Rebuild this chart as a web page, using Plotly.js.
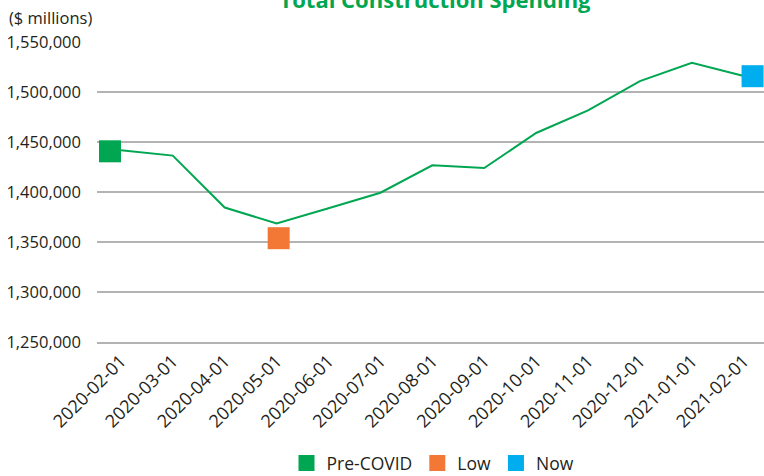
<!DOCTYPE html>
<html>
<head>
<meta charset="utf-8">
<script src="https://cdn.plot.ly/plotly-3.0.1.min.js"></script>
<style>html,body{margin:0;padding:0;background:#fff;}#chart{width:764px;height:476px;}</style>
</head>
<body>
<div id="chart"></div>
<script>
// ---- data ----
const dates = ['2020-02-01','2020-03-01','2020-04-01','2020-05-01','2020-06-01','2020-07-01','2020-08-01',
               '2020-09-01','2020-10-01','2020-11-01','2020-12-01','2021-01-01','2021-02-01'];
const spending = [1441700, 1436400, 1384500, 1368500, 1383800, 1399300, 1426700,
                  1424000, 1459000, 1481600, 1510900, 1529200, 1516000];
const yTickVals = [1250000, 1300000, 1350000, 1400000, 1450000, 1500000, 1550000];
const yTickText = ['1,250,000','1,300,000','1,350,000','1,400,000','1,450,000','1,500,000','1,550,000'];
// highlight markers (x as position along the date index)
const preCovidX = [-0.21], preCovidY = [1440700];
const lowX = [3.04],       lowY = [1353800];
const nowX = [12.17],      nowY = [1515800];

const idx = dates.map((d, i) => i);
const FONT = '"Open Sans", "DejaVu Sans", sans-serif';
const TXT = '#231f20';

const traces = [
  {x: idx, y: spending, type: 'scatter', mode: 'lines', line: {color: '#00a651', width: 2},
   showlegend: false, hoverinfo: 'skip'},
  {x: preCovidX, y: preCovidY, type: 'scatter', mode: 'markers', name: 'Pre-COVID',
   marker: {symbol: 'square', size: 22, color: '#00a651'}, cliponaxis: false},
  {x: lowX, y: lowY, type: 'scatter', mode: 'markers', name: 'Low',
   marker: {symbol: 'square', size: 22, color: '#f37735'}, cliponaxis: false},
  {x: nowX, y: nowY, type: 'scatter', mode: 'markers', name: 'Now',
   marker: {symbol: 'square', size: 22, color: '#00aeef'}, cliponaxis: false}
];

const layout = {
  width: 764, height: 476,
  margin: {l: 97, r: 0, t: 41.5, b: 134},
  paper_bgcolor: '#fff', plot_bgcolor: '#fff',
  font: {family: FONT, color: TXT, size: 16},
  title: {text: '<b>Total Construction Spending</b>', font: {family: FONT, size: 22, color: '#00a651'},
          xref: 'container', x: 435/764, xanchor: 'center', yref: 'container', y: 1 - 8/476, yanchor: 'bottom'},
  xaxis: {range: [-0.46, 12.39], tickmode: 'array', tickvals: idx, ticktext: dates, tickangle: -45,
          showgrid: false, zeroline: false, showline: true, linecolor: '#b3b3b3', linewidth: 1.5,
          ticks: '', tickfont: {size: 18, color: TXT}},
  yaxis: {range: [1250000, 1550000], tickmode: 'array', tickvals: yTickVals, ticktext: yTickText,
          showgrid: true, gridcolor: '#b3b3b3', gridwidth: 1.5, zeroline: false, showline: false,
          ticks: '', ticklabelstandoff: 15, tickfont: {size: 16.5, color: TXT}},
  showlegend: true,
  legend: {orientation: 'h', xref: 'container', x: 433/764, xanchor: 'center',
           yref: 'container', y: (476 - 463)/476, yanchor: 'middle',
           font: {size: 17.5, color: TXT}, itemwidth: 30, tracegroupgap: 0},
  annotations: [
    {text: '($ millions)', xref: 'paper', yref: 'paper', x: 0, y: 1, xanchor: 'left', yanchor: 'middle',
     xshift: -90, yshift: 24.5, showarrow: false, font: {size: 16.5, color: TXT}}
  ]
};

Plotly.newPlot('chart', traces, layout, {displayModeBar: false, staticPlot: true});
</script>
</body>
</html>
